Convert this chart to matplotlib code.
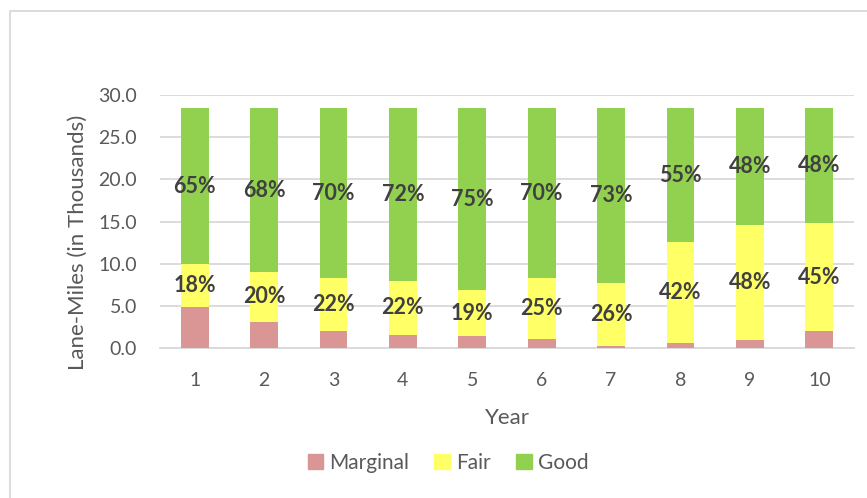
import matplotlib.pyplot as plt
import matplotlib.patches as mpatches
import numpy as np

plt.rcParams['font.family'] = ['Lato', 'DejaVu Sans']

years = ["1", "2", "3", "4", "5", "6", "7", "8", "9", "10"]
# lane-miles in thousands
marginal = [4.9, 3.1, 2.0, 1.6, 1.4, 1.1, 0.2, 0.6, 0.9, 2.0]
fair = [5.1, 5.9, 6.3, 6.3, 5.5, 7.2, 7.5, 12.0, 13.7, 12.8]
good = [18.4, 19.4, 20.1, 20.5, 21.5, 20.1, 20.7, 15.8, 13.8, 13.6]
fair_pct = ["18%", "20%", "22%", "22%", "19%", "25%", "26%", "42%", "48%", "45%"]
good_pct = ["65%", "68%", "70%", "72%", "75%", "70%", "73%", "55%", "48%", "48%"]

c_marg = "#D99694"
c_fair = "#FFFF66"
c_good = "#92D050"
grid_c = "#D9D9D9"
txt_c = "#595959"

W, H = 867, 498
fig = plt.figure(figsize=(W / 100, H / 100), dpi=100)
ax = fig.add_axes([160 / W, 1 - 348 / H, 694 / W, 253 / H])

x = np.arange(len(years))
bw = 0.4
b1 = ax.bar(x, marginal, bw, color=c_marg, label="Marginal", zorder=3)
b2 = ax.bar(x, fair, bw, bottom=marginal, color=c_fair, label="Fair", zorder=3)
bot2 = np.array(marginal) + np.array(fair)
b3 = ax.bar(x, good, bw, bottom=bot2, color=c_good, label="Good", zorder=3)

ax.bar_label(b2, labels=fair_pct, label_type="center", fontsize=15.5,
             fontweight="bold", color="#404040", zorder=4)
ax.bar_label(b3, labels=good_pct, label_type="center", fontsize=15.5,
             fontweight="bold", color="#404040", zorder=4)

ax.set_xlim(-0.5, len(years) - 0.5)
ax.set_ylim(0, 30)
ax.set_yticks(np.arange(0, 31, 5))
ax.set_yticklabels([f"{v:.1f}" for v in np.arange(0, 31, 5)])
ax.set_xticks(x)
ax.set_xticklabels(years)
ax.yaxis.grid(True, color=grid_c, linewidth=1.3, zorder=0)
ax.tick_params(axis="both", length=0, labelsize=14, labelcolor=txt_c)
ax.tick_params(axis="y", pad=16.5)
ax.tick_params(axis="x", pad=17)
for s in ["top", "right", "left"]:
    ax.spines[s].set_visible(False)
ax.spines["bottom"].set_color(grid_c)
ax.spines["bottom"].set_linewidth(1.3)

fig.text(507 / W, 1 - 418 / H, "Year", ha="center", va="center",
         fontsize=16, color=txt_c)
fig.text(78 / W, 1 - 242 / H, "Lane-Miles (in Thousands)", ha="center",
         va="center", rotation=90, fontsize=16, color=txt_c)

handles = [mpatches.Patch(color=c_marg, label="Marginal"),
           mpatches.Patch(color=c_fair, label="Fair"),
           mpatches.Patch(color=c_good, label="Good")]
leg = fig.legend(handles=handles, loc="center", ncol=3, frameon=False,
                 bbox_to_anchor=(448 / W, 1 - 463 / H), fontsize=15,
                 handlelength=0.75, handleheight=0.75, handletextpad=0.3,
                 columnspacing=1.2)
for t in leg.get_texts():
    t.set_color(txt_c)

# chart area border (cropped on right and bottom)
fig.add_artist(mpatches.Rectangle((10 / W, -0.1), 1.1, 1 - 11 / H + 0.1,
                                  transform=fig.transFigure, fill=False,
                                  edgecolor=grid_c, linewidth=1.3))

fig.savefig("out.png", dpi=100)
